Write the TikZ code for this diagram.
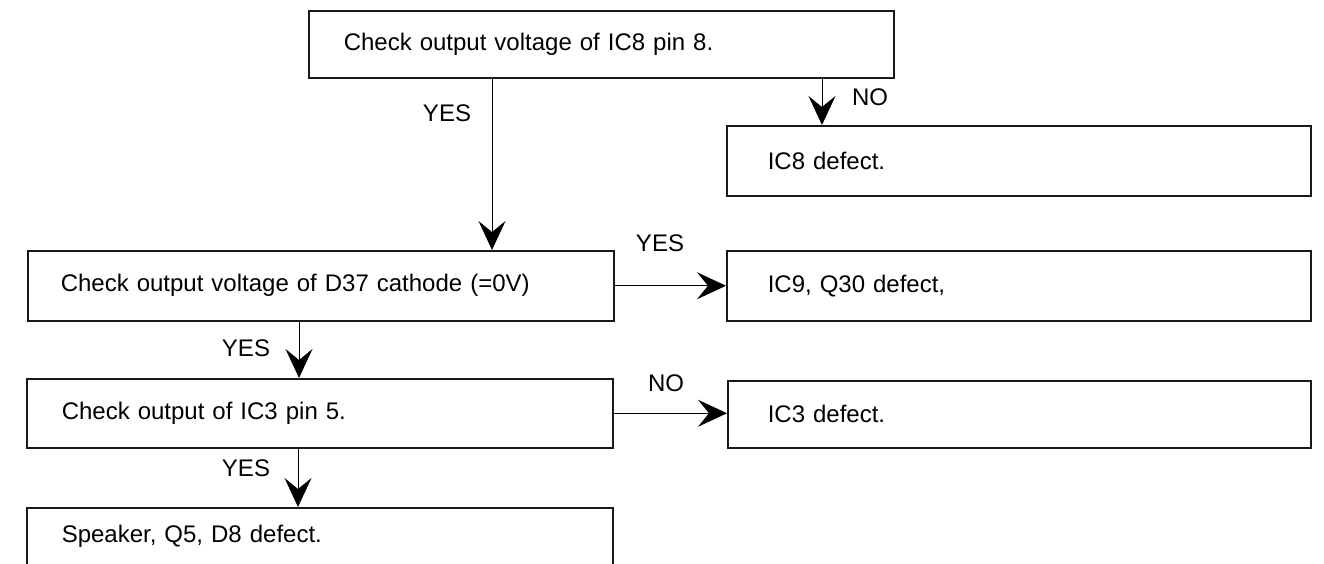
\documentclass[tikz,border=0pt]{standalone}
\usepackage{fontspec}
\setmainfont{Liberation Sans}
\usetikzlibrary{arrows.meta,calc}
\begin{document}
\begin{tikzpicture}[x=0.5pt,y=-0.5pt,
  box/.style={draw=black!90, line width=0.75pt, anchor=north west, align=left,
    font=\fontsize{12}{14}\selectfont, inner ysep=0pt},
  lbl/.style={font=\fontsize{12}{14}\selectfont, inner sep=0pt},
  arr/.style={draw=black, line width=0.5pt,
    -{Stealth[length=14.5pt, width=13.5pt, inset=5.5pt]}}]
\useasboundingbox (0,0) rectangle (1324,563);
\clip (0,0) rectangle (1324,563);
% boxes
\node[box, minimum width=292.5pt, minimum height=33.5pt, inner xsep=17.5pt, text width=257.5pt]
  (top) at (308,10) {Check output voltage of IC8 pin 8.};
\node[box, minimum width=292pt, minimum height=35pt, inner xsep=20.5pt, text width=251pt]
  (ic8) at (726,125) {IC8 defect.};
\node[box, minimum width=293pt, minimum height=35pt, inner xsep=16.5pt, text width=260pt]
  (box2) at (27,250) {Check output voltage of D37 cathode (=0V)};
\node[box, minimum width=292pt, minimum height=35pt, inner xsep=20.5pt, text width=251pt]
  (ic9) at (726,250) {IC9, Q30 defect,};
\node[box, minimum width=293pt, minimum height=34.5pt, inner xsep=17.5pt, text width=258pt]
  (box3) at (26,378) {Check output of IC3 pin 5.};
\node[box, minimum width=291.5pt, minimum height=33.5pt, inner xsep=20pt, text width=251.5pt]
  (ic3) at (727,380) {IC3 defect.};
\node[box, minimum width=293pt, inner xsep=17.5pt, text width=258pt,
  text height=17.5pt, text depth=19pt]
  (box4) at (26,507) {Speaker, Q5, D8 defect.};
% connectors
\draw[arr] ([xshift=92pt]top.south west) -- ([xshift=92pt]top.south west |- box2.north);
\draw[arr] ([xshift=257pt]top.south west) -- ([xshift=257pt]top.south west |- ic8.north);
\draw[arr] (box2.east) -- (box2.east -| ic9.west);
\draw[arr] ([xshift=136pt]box2.south west) -- ([xshift=136pt]box2.south west |- box3.north);
\draw[arr] (box3.east) -- (box3.east -| ic3.west);
\draw[arr] ([xshift=136pt]box3.south west) -- ([xshift=136pt]box3.south west |- box4.north);
% labels
\node[lbl] (l1) at (447,113) {YES};
\node[lbl] (l2) at (870,97) {NO};
\node[lbl] (l3) at (660,243) {YES};
\node[lbl] (l4) at (246,348) {YES};
\node[lbl] (l5) at (666,383) {NO};
\node[lbl] (l6) at (246,468) {YES};
\end{tikzpicture}
\end{document}
